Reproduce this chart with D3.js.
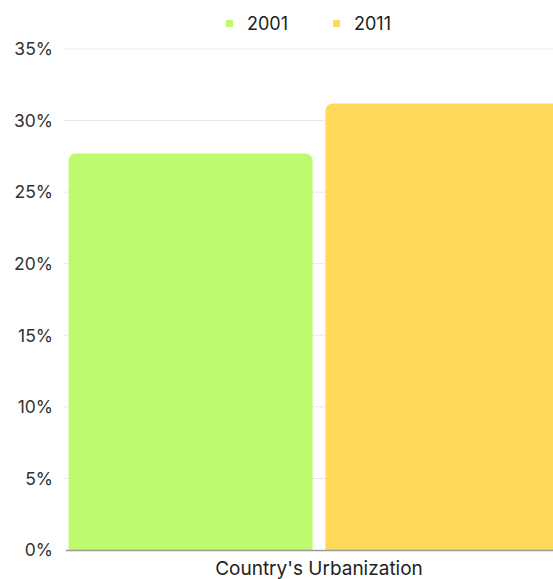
<!DOCTYPE html>
<html>
<head>
<meta charset="utf-8">
<script src="https://cdn.jsdelivr.net/npm/d3@7"></script>
<style>
  body { margin: 0; background: #fff; overflow: hidden; }
  svg { display: block; font-family: Inter, "Open Sans", sans-serif; }
</style>
</head>
<body>
<div id="chart"></div>
<script>
// Chart data
const categories = ["Country's Urbanization"];
const seriesNames = ["2001", "2011"];
const seriesValues = [[27.7], [31.2]];
const seriesColors = ["#bdfa6d", "#ffda5a"];
const yTicks = [0, 5, 10, 15, 20, 25, 30, 35];

const width = 553, height = 579;
const margin = { top: 49, left: 66, bottom: 29 };
const plotRight = 572; // plot runs past the right edge, as in the picture

const svg = d3.select('#chart')
    .append('svg')
    .attr('width', width)
    .attr('height', height);

const y = d3.scaleLinear()
    .domain([0, 35])
    .range([height - margin.bottom, margin.top]);

const x0 = d3.scaleBand()
    .domain(categories)
    .range([margin.left, plotRight])
    .paddingInner(0)
    .paddingOuter(0);

const x1 = d3.scaleBand()
    .domain(seriesNames)
    .range([0, x0.bandwidth()])
    .paddingInner(0.05)
    .paddingOuter(0.01);

// Gridlines
svg.append('g')
    .selectAll('line')
    .data(yTicks.filter(d => d > 0))
    .enter()
    .append('line')
    .attr('x1', 64)
    .attr('x2', plotRight)
    .attr('y1', d => y(d))
    .attr('y2', d => y(d))
    .attr('stroke', '#e8e8e8')
    .attr('stroke-width', 1);

// Y tick labels
svg.append('g')
    .selectAll('text')
    .data(yTicks)
    .enter()
    .append('text')
    .attr('x', 53)
    .attr('y', d => y(d))
    .attr('dy', '0.36em')
    .attr('text-anchor', 'end')
    .attr('font-size', 17.5)
    .attr('fill', '#333')
    .text(d => d + '%');

// Bars with rounded top corners
function topRoundedRect(x, yTop, w, h, r) {
    return `M${x},${yTop + h}V${yTop + r}Q${x},${yTop} ${x + r},${yTop}` +
        `H${x + w - r}Q${x + w},${yTop} ${x + w},${yTop + r}V${yTop + h}Z`;
}

const barData = [];
categories.forEach((c, i) => {
    seriesNames.forEach((s, j) => {
        barData.push({ cat: c, series: s, value: seriesValues[j][i], color: seriesColors[j] });
    });
});

svg.append('g')
    .selectAll('path')
    .data(barData)
    .enter()
    .append('path')
    .attr('d', d => {
        const bx = x0(d.cat) + x1(d.series);
        const top = y(d.value);
        return topRoundedRect(bx, top, x1.bandwidth(), y(0) - top, 8);
    })
    .attr('fill', d => d.color);

// Baseline
svg.append('line')
    .attr('x1', 66)
    .attr('x2', plotRight)
    .attr('y1', y(0) + 0.5)
    .attr('y2', y(0) + 0.5)
    .attr('stroke', '#9a9a9a')
    .attr('stroke-width', 1.5);

// Category label
svg.append('text')
    .attr('x', x0(categories[0]) + x0.bandwidth() / 2)
    .attr('y', 575)
    .attr('text-anchor', 'middle')
    .attr('font-size', 19)
    .attr('fill', '#222')
    .text(categories[0]);

// Legend
const legendX = [226, 333];
const legend = svg.append('g');
seriesNames.forEach((s, i) => {
    legend.append('rect')
        .attr('x', legendX[i])
        .attr('y', 20)
        .attr('width', 7)
        .attr('height', 7)
        .attr('fill', seriesColors[i]);
    legend.append('text')
        .attr('x', legendX[i] + 21)
        .attr('y', 24)
        .attr('dy', '0.36em')
        .attr('font-size', 18)
        .attr('fill', '#222')
        .text(s);
});
</script>
</body>
</html>
